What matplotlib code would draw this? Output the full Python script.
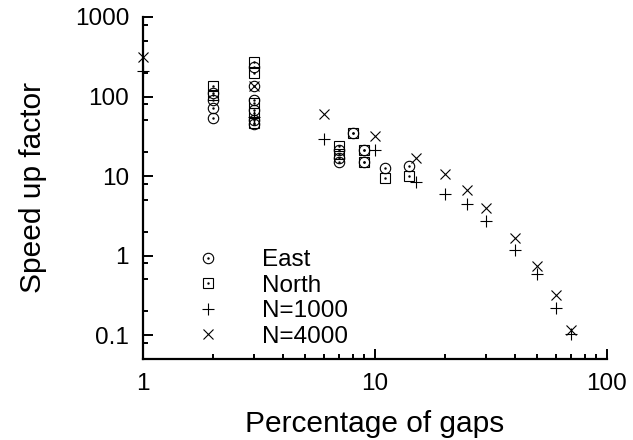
import matplotlib
matplotlib.use('Agg')
import matplotlib.pyplot as plt
from matplotlib.ticker import FixedLocator, NullFormatter

plt.rcParams['font.family'] = ['Liberation Sans', 'DejaVu Sans']

# East / North measurements (percentage of gaps, speed up)
east_x = [2, 2, 2, 2, 3, 3, 3, 3, 3, 3, 7, 7, 7, 8, 9, 9, 11, 14]
east_y = [110, 90, 71, 54, 232, 137, 90, 68, 50, 45, 21, 17, 15, 35, 21, 15, 12.5, 13.5]

north_x = [2, 2, 3, 3, 3, 3, 3, 7, 7, 8, 9, 9, 11, 14]
north_y = [135, 103, 268, 200, 84, 62, 47, 24, 19, 35, 21, 15, 9.5, 10]

# simulations
n1000_x = [1, 3, 6, 10, 15, 20, 25, 30, 40, 50, 60, 70]
n1000_y = [209, 55, 29, 21, 8.5, 6.0, 4.4, 2.7, 1.19, 0.59, 0.22, 0.104]

n4000_x = [1, 3, 6, 10, 15, 20, 25, 30, 40, 50, 60, 70]
n4000_y = [314, 137, 60, 32, 17, 10.7, 6.6, 4.0, 1.64, 0.73, 0.32, 0.117]

ytick_vals = [0.1, 1, 10, 100, 1000]
ytick_labels = ['0.1', '1', '10', '100', '1000']
xtick_vals = [1, 10, 100]
xtick_labels = ['1', '10', '100']

fig = plt.figure(figsize=(6.33, 4.40), dpi=100)
ax = fig.add_axes([0.2259, 0.1841, 0.733, 0.7773])

ms = 7.5
lw = 0.8
kw = dict(linestyle='none', color='black', clip_on=False)

h_e = ax.plot(east_x, east_y, marker='o', markersize=ms, markerfacecolor='none',
              markeredgewidth=lw, **kw)[0]
d_e = ax.plot(east_x, east_y, marker='.', markersize=1.5, **kw)[0]
h_n = ax.plot(north_x, north_y, marker='s', markersize=ms - 0.8, markerfacecolor='none',
              markeredgewidth=lw, **kw)[0]
d_n = ax.plot(north_x, north_y, marker='.', markersize=1.5, **kw)[0]
h_1 = ax.plot(n1000_x, n1000_y, marker='+', markersize=ms + 1, markeredgewidth=lw, **kw)[0]
h_4 = ax.plot(n4000_x, n4000_y, marker='x', markersize=ms, markeredgewidth=lw, **kw)[0]

ax.set_xscale('log')
ax.set_yscale('log')
ax.set_xlim(1, 100)
ax.set_ylim(0.05, 1000)

ax.spines['top'].set_visible(False)
ax.spines['right'].set_visible(False)
ax.spines['left'].set_linewidth(1.6)
ax.spines['bottom'].set_linewidth(1.6)

ax.xaxis.set_major_locator(FixedLocator(xtick_vals))
ax.set_xticklabels(xtick_labels)
ax.xaxis.set_minor_locator(FixedLocator([m * 10 ** k for k in range(0, 2) for m in range(2, 10)]))
ax.xaxis.set_minor_formatter(NullFormatter())

ax.yaxis.set_major_locator(FixedLocator(ytick_vals))
ax.set_yticklabels(ytick_labels)
ax.yaxis.set_minor_locator(FixedLocator([m * 10.0 ** k for k in range(-2, 3) for m in (2, 5, 8)]))
ax.yaxis.set_minor_formatter(NullFormatter())

ax.tick_params(which='major', direction='in', length=7, width=1.4, labelsize=17.5, pad=10)
ax.tick_params(which='minor', direction='in', length=3.5, width=1.4)

ax.set_xlabel('Percentage of gaps', fontsize=21.5, labelpad=11)
ax.set_ylabel('Speed up factor', fontsize=21.5, labelpad=20)

ax.legend([(h_e, d_e), (h_n, d_n), h_1, h_4], ['East', 'North', 'N=1000', 'N=4000'],
          loc='lower left', bbox_to_anchor=(0.08, 0.005), frameon=False, fontsize=17.5,
          handlelength=1.5, handletextpad=1.47, labelspacing=0.14, borderaxespad=0)

plt.savefig('out.png', dpi=100)
plt.close()
